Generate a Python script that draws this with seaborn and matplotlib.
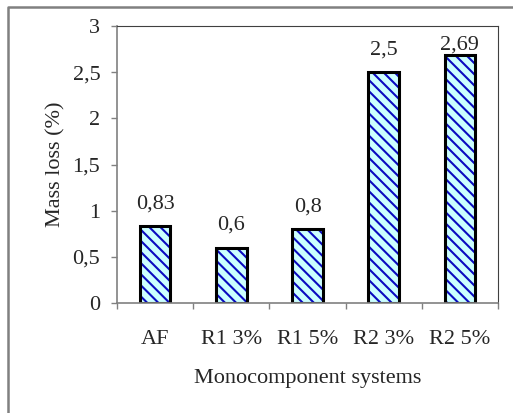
import matplotlib
matplotlib.use("Agg")
import matplotlib.pyplot as plt
from matplotlib.lines import Line2D
from matplotlib.ticker import FuncFormatter
import seaborn as sns
import pandas as pd

# Mass loss of the monocomponent systems
systems = ["AF", "R1 3%", "R1 5%", "R2 3%", "R2 5%"]
mass_loss = [0.83, 0.6, 0.8, 2.5, 2.69]
value_labels = ["0,83", "0,6", "0,8", "2,5", "2,69"]
y_ticks = [0, 0.5, 1, 1.5, 2, 2.5, 3]

df = pd.DataFrame({"system": systems, "loss": mass_loss})

sns.set_style("white")
plt.rcParams["font.family"] = ["Liberation Serif", "DejaVu Serif"]
plt.rcParams["hatch.linewidth"] = 1.5
FS = 16

W, H = 513, 413
fig = plt.figure(figsize=(W / 100, H / 100), dpi=100)
left, right, top, bottom = 117, 498, 26, 303
ax = fig.add_axes([left / W, 1 - bottom / H, (right - left) / W, (bottom - top) / H])

# hatched fill (hatch takes the edge colour, so the outline is drawn separately)
sns.barplot(data=df, x="system", y="loss", order=systems, ax=ax,
            color="#ccffff", saturation=1, width=0.4,
            edgecolor="#0a0ac0", linewidth=0, hatch="\\\\\\")
sns.barplot(data=df, x="system", y="loss", order=systems, ax=ax,
            fill=False, width=0.4, edgecolor="black", linewidth=2.2)

ax.set_ylim(0, 3)
ax.set_xlim(-0.5, len(systems) - 0.5)
ax.set_yticks(y_ticks)
ax.yaxis.set_major_formatter(
    FuncFormatter(lambda v, p: ("%g" % v).replace(".", ",")))
ax.set_xticks([i - 0.5 for i in range(len(systems) + 1)], minor=True)
ax.set_xticks(range(len(systems)))
ax.set_xticklabels(systems)

ax.tick_params(axis="y", which="major", left=True, length=4, width=1,
               color="#808080", labelsize=FS, pad=8)
ax.tick_params(axis="x", which="major", bottom=False, labelsize=FS, pad=16)
ax.tick_params(axis="x", which="minor", bottom=True, length=4, width=1,
               color="#808080")

for side in ["left", "bottom"]:
    ax.spines[side].set_color("#808080")
    ax.spines[side].set_linewidth(1.2)
for side in ["top", "right"]:
    ax.spines[side].set_visible(True)
    ax.spines[side].set_color("#404040")
    ax.spines[side].set_linewidth(0.8)

ax.set_xlabel("Monocomponent systems", fontsize=FS, labelpad=14)
ax.set_ylabel("Mass loss (%)", fontsize=FS, labelpad=5)

# value labels above bars, kept inside the plot area
px_per_unit = (bottom - top) / 3
for i, (v, lab) in enumerate(zip(mass_loss, value_labels)):
    headroom = (3 - v) * px_per_unit
    off_px = min(18, headroom - 24)
    ax.annotate(lab, (i, v), xytext=(0, off_px * 72 / 100),
                textcoords="offset points", ha="center", va="baseline",
                fontsize=FS)

# chart area frame
fig.add_artist(Line2D([8 / W, 8 / W, 1], [0, 1 - 7 / H, 1 - 7 / H],
                      transform=fig.transFigure, color="#808080", lw=1.8))

fig.savefig("out.png", dpi=100)
